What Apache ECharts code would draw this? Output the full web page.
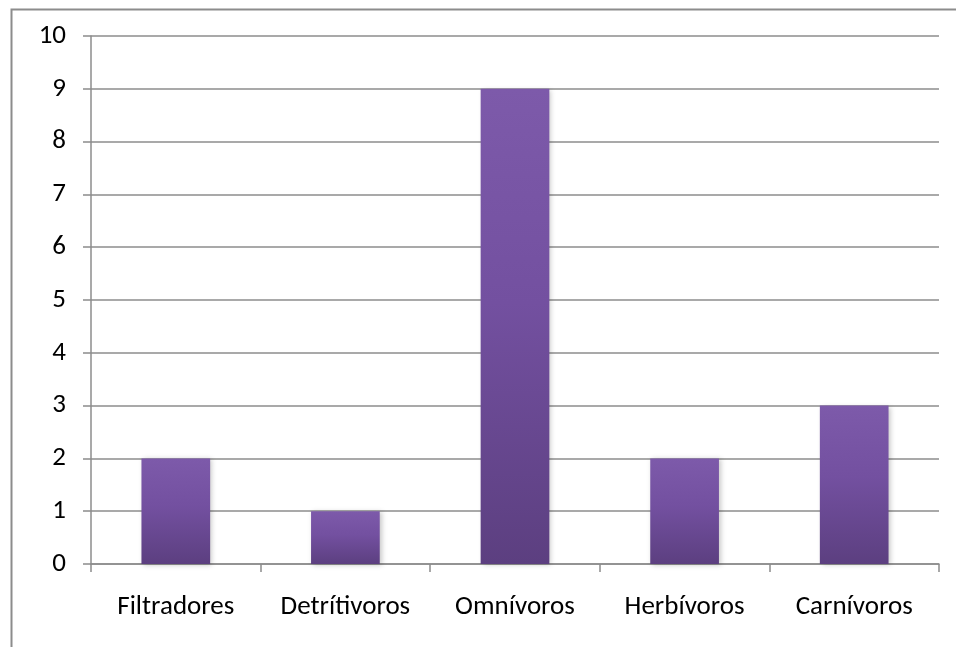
<!DOCTYPE html>
<html>
<head>
<meta charset="utf-8">
<script src="https://cdn.jsdelivr.net/npm/echarts@6/dist/echarts.min.js"></script>
<style>
  html, body { margin: 0; padding: 0; background: #fff; }
  #chart { width: 956px; height: 647px; }
</style>
</head>
<body>
<div id="chart"></div>
<script>
// Feeding guilds and the count of species in each
const categories = ['Filtradores', 'Detrítivoros', 'Omnívoros', 'Herbívoros', 'Carnívoros'];
const counts = [2, 1, 9, 2, 3];
const yTicks = { min: 0, max: 10, interval: 1 };

const fontFamily = 'Carlito, Calibri, "Open Sans", "Noto Sans", sans-serif';
const gray = '#8c8c8c';

const chart = echarts.init(document.getElementById('chart'), null, { renderer: 'canvas' });
chart.setOption({
  animation: false,
  backgroundColor: '#ffffff',
  graphic: [{
    type: 'rect',
    left: 9, top: 7,
    shape: { width: 1000, height: 1000 },
    style: { fill: 'none', stroke: gray, lineWidth: 2 },
    silent: true
  }],
  grid: { left: 91, right: 17, top: 36, bottom: 83 },
  xAxis: {
    type: 'category',
    data: categories,
    boundaryGap: true,
    axisLine: { lineStyle: { color: gray, width: 1.5 } },
    axisTick: { show: true, length: 8, alignWithLabel: false, lineStyle: { color: gray, width: 1.5 } },
    axisLabel: { color: '#000', fontSize: 27, fontFamily: fontFamily, margin: 30 }
  },
  yAxis: {
    type: 'value',
    min: yTicks.min, max: yTicks.max, interval: yTicks.interval,
    axisLine: { show: true, lineStyle: { color: gray, width: 1.5 } },
    axisTick: { show: true, length: 8, lineStyle: { color: gray, width: 1.5 } },
    splitLine: { show: true, lineStyle: { color: gray, width: 1.5 } },
    axisLabel: { color: '#000', fontSize: 27, fontFamily: fontFamily, margin: 25 }
  },
  series: [{
    type: 'bar',
    data: counts,
    barWidth: '40.5%',
    itemStyle: {
      color: new echarts.graphic.LinearGradient(0, 0, 0, 1, [
        { offset: 0, color: '#7d5aaa' },
        { offset: 0.45, color: '#7350a0' },
        { offset: 1, color: '#5c3f80' }
      ]),
      shadowColor: 'rgba(0,0,0,0.22)',
      shadowBlur: 5,
      shadowOffsetX: 2,
      shadowOffsetY: 1
    }
  }]
});
</script>
</body>
</html>
